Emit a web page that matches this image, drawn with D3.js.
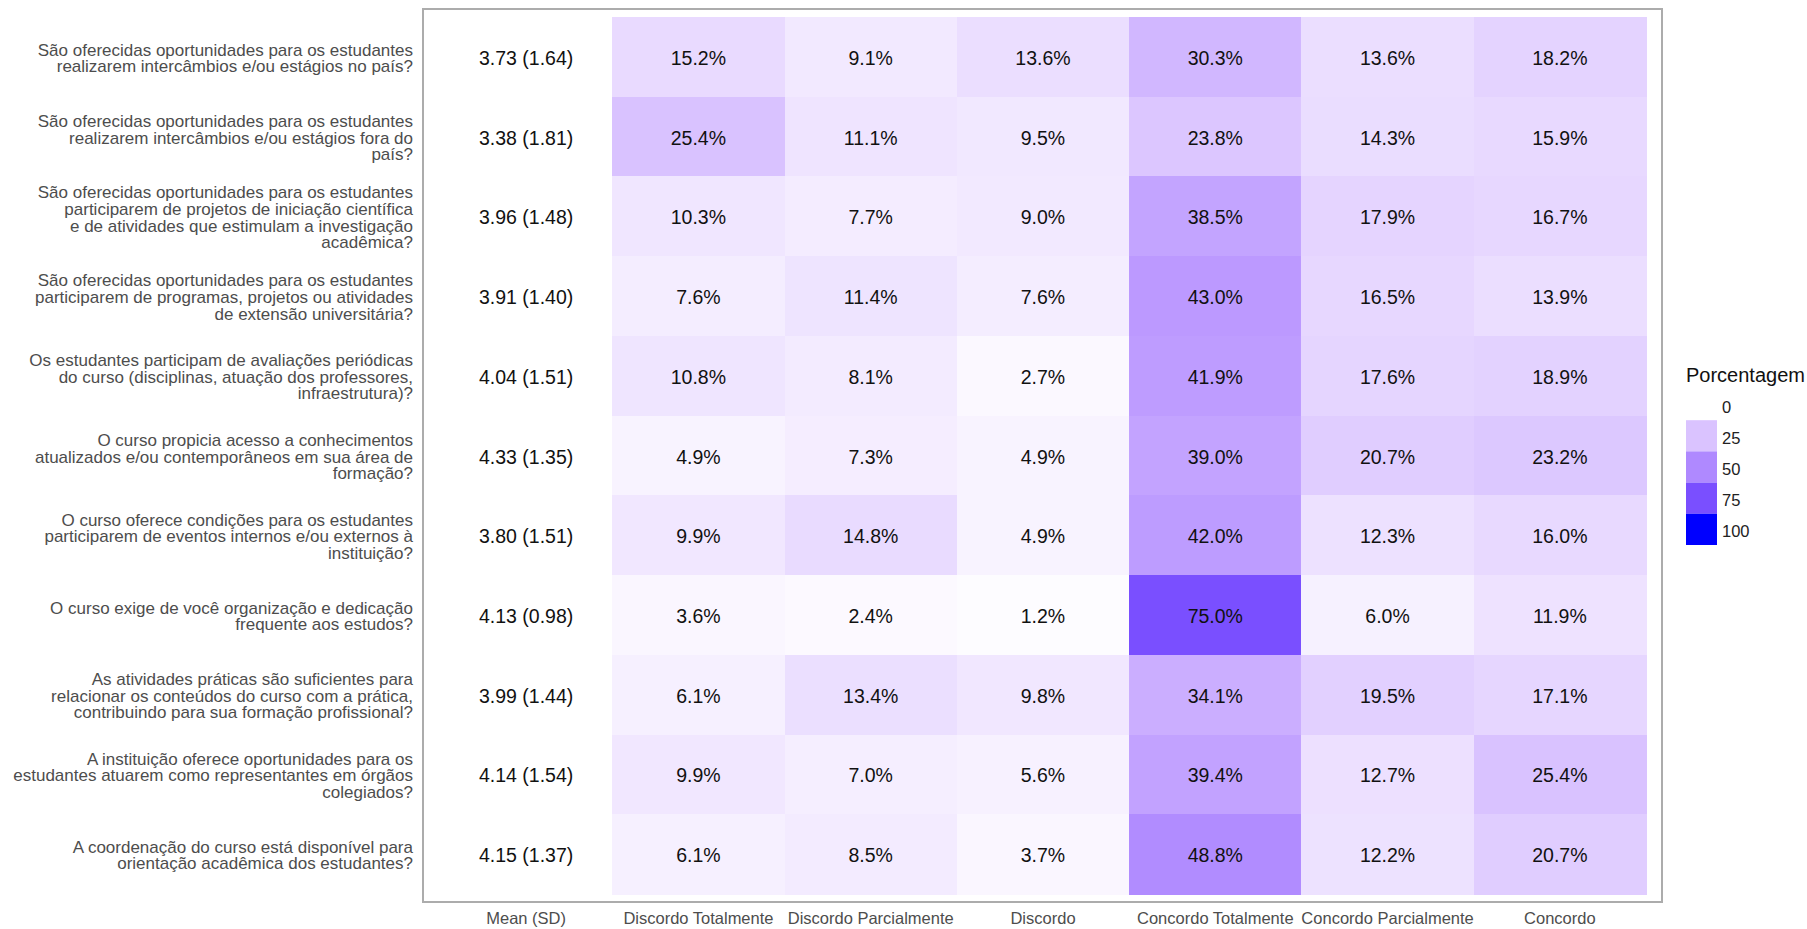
<!DOCTYPE html>
<html>
<head>
<meta charset="utf-8">
<script src="https://cdn.jsdelivr.net/npm/d3@7"></script>
<style>
  body { margin: 0; background: #fff; }
  svg { display: block; font-family: "Liberation Sans", Arial, sans-serif; }
</style>
</head>
<body>
<div id="chart"></div>
<script>
// questions (y axis), top to bottom
const questions = [
  "São oferecidas oportunidades para os estudantes\nrealizarem intercâmbios e/ou estágios no país?",
  "São oferecidas oportunidades para os estudantes\nrealizarem intercâmbios e/ou estágios fora do\npaís?",
  "São oferecidas oportunidades para os estudantes\nparticiparem de projetos de iniciação científica\ne de atividades que estimulam a investigação\nacadêmica?",
  "São oferecidas oportunidades para os estudantes\nparticiparem de programas, projetos ou atividades\nde extensão universitária?",
  "Os estudantes participam de avaliações periódicas\ndo curso (disciplinas, atuação dos professores,\ninfraestrutura)?",
  "O curso propicia acesso a conhecimentos\natualizados e/ou contemporâneos em sua área de\nformação?",
  "O curso oferece condições para os estudantes\nparticiparem de eventos internos e/ou externos à\ninstituição?",
  "O curso exige de você organização e dedicação\nfrequente aos estudos?",
  "As atividades práticas são suficientes para\nrelacionar os conteúdos do curso com a prática,\ncontribuindo para sua formação profissional?",
  "A instituição oferece oportunidades para os\nestudantes atuarem como representantes em órgãos\ncolegiados?",
  "A coordenação do curso está disponível para\norientação acadêmica dos estudantes?"
];

const means = [3.73, 3.38, 3.96, 3.91, 4.04, 4.33, 3.80, 4.13, 3.99, 4.14, 4.15];
const sds   = [1.64, 1.81, 1.48, 1.40, 1.51, 1.35, 1.51, 0.98, 1.44, 1.54, 1.37];

const columns = ["Mean (SD)", "Discordo Totalmente", "Discordo Parcialmente", "Discordo",
                 "Concordo Totalmente", "Concordo Parcialmente", "Concordo"];

// percentages per answer category, one value per question
const discordoTotalmente   = [15.2, 25.4, 10.3, 7.6, 10.8, 4.9, 9.9, 3.6, 6.1, 9.9, 6.1];
const discordoParcialmente = [9.1, 11.1, 7.7, 11.4, 8.1, 7.3, 14.8, 2.4, 13.4, 7.0, 8.5];
const discordo             = [13.6, 9.5, 9.0, 7.6, 2.7, 4.9, 4.9, 1.2, 9.8, 5.6, 3.7];
const concordoTotalmente   = [30.3, 23.8, 38.5, 43.0, 41.9, 39.0, 42.0, 75.0, 34.1, 39.4, 48.8];
const concordoParcialmente = [13.6, 14.3, 17.9, 16.5, 17.6, 20.7, 12.3, 6.0, 19.5, 12.7, 12.2];
const concordo             = [18.2, 15.9, 16.7, 13.9, 18.9, 23.2, 16.0, 11.9, 17.1, 25.4, 20.7];

const legendBreaks = [0, 25, 50, 75, 100];

// build cells
const pctSeries = [discordoTotalmente, discordoParcialmente, discordo,
                   concordoTotalmente, concordoParcialmente, concordo];
const cells = [];
questions.forEach((q, i) => {
  pctSeries.forEach((s, j) => {
    cells.push({q: i, col: columns[j + 1], value: s[i]});
  });
});

const width = 1807, height = 929;
const panel = {x0: 423, x1: 1662, y0: 9, y1: 902};

const svg = d3.select("#chart").append("svg")
    .attr("width", width)
    .attr("height", height);

const x = d3.scaleBand()
    .domain(columns)
    .range([440, 1646]);

const y = d3.scaleBand()
    .domain(d3.range(questions.length))
    .range([17, 894]);

const color = d3.scaleSequential(d3.interpolateLab("#ffffff", "#0000ff"))
    .domain([0, 100]);

// tiles
svg.append("g")
    .attr("shape-rendering", "crispEdges")
  .selectAll("rect")
  .data(cells)
  .join("rect")
    .attr("x", d => x(d.col))
    .attr("y", d => y(d.q))
    .attr("width", x.bandwidth() + 0.5)
    .attr("height", y.bandwidth() + 0.5)
    .attr("fill", d => color(d.value));

// tile labels
svg.append("g")
    .attr("font-size", 19.5)
    .attr("fill", "#111")
    .attr("text-anchor", "middle")
  .selectAll("text")
  .data(cells)
  .join("text")
    .attr("x", d => x(d.col) + x.bandwidth() / 2)
    .attr("y", d => y(d.q) + y.bandwidth() / 2 + 1)
    .attr("dy", "0.36em")
    .text(d => d.value.toFixed(1) + "%");

// mean (sd) column
svg.append("g")
    .attr("font-size", 19.5)
    .attr("fill", "#111")
    .attr("text-anchor", "middle")
  .selectAll("text")
  .data(means)
  .join("text")
    .attr("x", x(columns[0]) + x.bandwidth() / 2)
    .attr("y", (d, i) => y(i) + y.bandwidth() / 2 + 1)
    .attr("dy", "0.36em")
    .text((d, i) => `${d.toFixed(2)} (${sds[i].toFixed(2)})`);

// panel border
svg.append("rect")
    .attr("x", panel.x0)
    .attr("y", panel.y0)
    .attr("width", panel.x1 - panel.x0)
    .attr("height", panel.y1 - panel.y0)
    .attr("fill", "none")
    .attr("stroke", "#acacac")
    .attr("stroke-width", 2);

// y labels
const lineH = 16.6;
const yl = svg.append("g")
    .attr("font-size", 17)
    .attr("fill", "#4d4d4d")
    .attr("text-anchor", "end")
  .selectAll("text")
  .data(questions)
  .join("text")
    .attr("x", 413)
    .attr("y", (d, i) => y(i) + y.bandwidth() / 2 + 1);
yl.each(function(d) {
  const lines = d.split("\n");
  const t = d3.select(this);
  lines.forEach((l, k) => {
    t.append("tspan")
      .attr("x", 413)
      .attr("dy", k === 0 ? ((-(lines.length - 1) / 2) * lineH + 6) : lineH)
      .text(l);
  });
});

// x labels
const xAxis = d3.axisBottom(x).tickSize(0).tickPadding(0);
const gx = svg.append("g")
    .attr("transform", `translate(0,${912})`)
    .call(xAxis);
gx.select(".domain").remove();
gx.selectAll("text")
    .attr("font-family", "Liberation Sans, Arial, sans-serif")
    .attr("font-size", 16.5)
    .attr("fill", "#4d4d4d");

// legend
const lg = svg.append("g").attr("transform", "translate(1686,0)");
lg.append("text")
    .attr("x", 0)
    .attr("y", 382)
    .attr("font-size", 20)
    .attr("fill", "#111")
    .text("Porcentagem");
const keyH = 31.2;
lg.selectAll("rect")
  .data(legendBreaks)
  .join("rect")
    .attr("x", 0)
    .attr("y", (d, i) => 389 + i * keyH)
    .attr("width", 31)
    .attr("height", keyH)
    .attr("fill", d => color(d));
lg.selectAll("text.lab")
  .data(legendBreaks)
  .join("text")
    .attr("class", "lab")
    .attr("x", 36)
    .attr("y", (d, i) => 389 + i * keyH + keyH / 2 + 2)
    .attr("dy", "0.36em")
    .attr("font-size", 16.5)
    .attr("fill", "#222")
    .text(d => d);
</script>
</body>
</html>
